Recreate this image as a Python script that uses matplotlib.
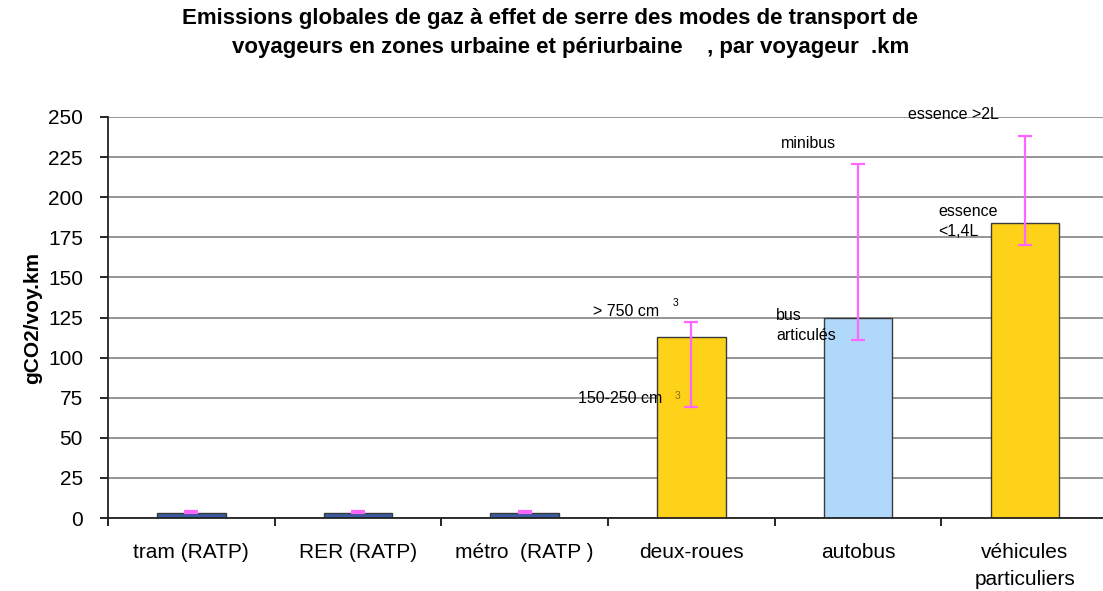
import numpy as np
import matplotlib.pyplot as plt

plt.rcParams['font.family'] = ['Liberation Sans', 'DejaVu Sans']

modes = ['tram (RATP)', 'RER (RATP)', 'métro  (RATP )', 'deux-roues', 'autobus', 'véhicules\nparticuliers']
emissions = [3, 3, 3, 113, 125, 184]
err_low = [3, 3, 3, 69, 111, 170]
err_high = [4.5, 4.5, 4.5, 122, 221, 238]
colors = ['#3b5ba5', '#3b5ba5', '#3b5ba5', '#ffd21a', '#b0d8fb', '#ffd21a']

fig = plt.figure(figsize=(11.03, 5.91), dpi=100)
ax = fig.add_axes([108 / 1103, 73 / 591, 1005 / 1103, 401 / 591])

x = np.arange(len(modes))
ax.set_axisbelow(True)
ax.yaxis.grid(True, color='#8c8c8c', linewidth=1.3)
ax.bar(x, emissions, width=0.41, color=colors, edgecolor='#3a3a3a', linewidth=1.0, zorder=2)

lo = np.array(emissions) - np.array(err_low)
hi = np.array(err_high) - np.array(emissions)
ax.errorbar(x, emissions, yerr=[lo, hi], fmt='none', ecolor='#ff66ff',
            elinewidth=1.6, capsize=5, capthick=1.6, zorder=3)

ax.set_xlim(-0.5, 5.53)
ax.set_ylim(0, 250)
ax.set_yticks(np.arange(0, 251, 25))
ax.set_xticks(np.arange(-0.5, 5.6, 1.0))
ax.set_xticklabels([])
ax.set_xticks(x, minor=True)
ax.set_xticklabels(modes, minor=True, fontsize=15, linespacing=1.55)
ax.tick_params(axis='x', which='minor', length=0, pad=18)
ax.tick_params(axis='x', which='major', length=6, width=1.2, direction='out')
ax.tick_params(axis='y', length=6, width=1.2, direction='out', labelsize=15, pad=12)

for s in ['top', 'right']:
    ax.spines[s].set_visible(False)
for s in ['left', 'bottom']:
    ax.spines[s].set_linewidth(1.3)
    ax.spines[s].set_color('#222222')

ax.set_ylabel('gCO2/voy.km', fontsize=15, fontweight='bold', labelpad=4)

# labels for the range ends
fs = 11.5
ax.text(2.41, 124, '> 750 cm', fontsize=fs, ha='left', va='bottom')
ax.text(2.89, 131, '3', fontsize=7.5, ha='left', va='bottom')
ax.text(2.32, 70, '150-250 cm', fontsize=fs, ha='left', va='bottom')
ax.text(2.90, 73, '3', fontsize=7.5, ha='left', va='bottom', color='#8a6d00')
ax.text(3.51, 109, 'bus\narticulés', fontsize=fs, ha='left', va='bottom', linespacing=1.45)
ax.text(3.54, 229, 'minibus', fontsize=fs, ha='left', va='bottom')
ax.text(4.30, 247, 'essence >2L', fontsize=fs, ha='left', va='bottom')
ax.text(4.48, 174, 'essence\n<1,4L', fontsize=fs, ha='left', va='bottom', linespacing=1.45)

fig.text(0.499, 0.968, 'Emissions globales de gaz à effet de serre des modes de transport de',
         ha='center', va='center', fontsize=16, fontweight='bold')
fig.text(0.517, 0.919, 'voyageurs en zones urbaine et périurbaine    , par voyageur  .km',
         ha='center', va='center', fontsize=16, fontweight='bold')

fig.savefig('out.png', dpi=100)
